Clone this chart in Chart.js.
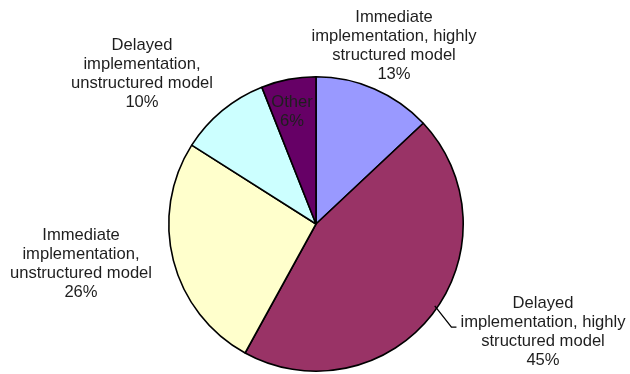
<!DOCTYPE html>
<html>
<head>
<meta charset="utf-8">
<script src="https://cdn.jsdelivr.net/npm/chart.js@4/dist/chart.umd.min.js"></script>
<style>
  html, body { margin: 0; padding: 0; background: #fff; }
  #wrap { width: 630px; height: 374px; }
</style>
</head>
<body>
<div id="wrap"><canvas id="pie" width="630" height="374"></canvas></div>
<script>
// Slice data, clockwise from 12 o'clock
const categories = [
  ['Immediate', 'implementation, highly', 'structured model'],
  ['Delayed', 'implementation, highly', 'structured model'],
  ['Immediate', 'implementation,', 'unstructured model'],
  ['Delayed', 'implementation,', 'unstructured model'],
  ['Other']
];
const shares = [13, 45, 26, 10, 6];
const sliceColors = ['#9999ff', '#993366', '#ffffcc', '#ccffff', '#660066'];

// Where each label block is centred (x, y of first line), and whether it gets a leader line
const labelPlaces = [
  { x: 394, y: 17 },
  { x: 543, y: 303, leader: true },
  { x: 81, y: 235 },
  { x: 142, y: 45 },
  { x: 292, y: 102 }
];

const sliceLabels = {
  id: 'sliceLabels',
  afterDatasetsDraw(chart) {
    const ctx = chart.ctx;
    const meta = chart.getDatasetMeta(0);
    const lineH = 19.2;
    ctx.save();
    ctx.font = '16.6px "Liberation Sans", Arial, sans-serif';
    ctx.fillStyle = '#1e1e1e';
    ctx.textAlign = 'center';
    ctx.textBaseline = 'middle';
    meta.data.forEach((arc, i) => {
      const place = labelPlaces[i];
      const lines = categories[i].concat([shares[i] + '%']);
      lines.forEach((t, k) => ctx.fillText(t, place.x, place.y + k * lineH));
      if (place.leader) {
        // leader from just inside the rim to a short tick before the label
        const p = arc.getProps(['x', 'y', 'startAngle', 'endAngle', 'outerRadius'], true);
        const mid = p.startAngle + (p.endAngle - p.startAngle) * 0.48;
        const sx = p.x + Math.cos(mid) * (p.outerRadius - 3);
        const sy = p.y + Math.sin(mid) * (p.outerRadius - 3);
        const ey = place.y + lineH + 5;
        const w = ctx.measureText(lines[1]).width;
        const ex = place.x - w / 2 - 4;
        ctx.beginPath();
        ctx.strokeStyle = '#000';
        ctx.lineWidth = 1.3;
        ctx.moveTo(sx, sy);
        ctx.lineTo(ex - 5, ey);
        ctx.lineTo(ex, ey);
        ctx.stroke();
      }
    });
    ctx.restore();
  }
};

new Chart(document.getElementById('pie'), {
  type: 'pie',
  data: {
    labels: categories,
    datasets: [{
      data: shares,
      backgroundColor: sliceColors,
      borderColor: '#000',
      borderWidth: 1.6
    }]
  },
  options: {
    responsive: false,
    animation: false,
    layout: { padding: { left: 168, right: 166, top: 76, bottom: 2 } },
    plugins: {
      legend: { display: false },
      tooltip: { enabled: false }
    }
  },
  plugins: [sliceLabels]
});
</script>
</body>
</html>
